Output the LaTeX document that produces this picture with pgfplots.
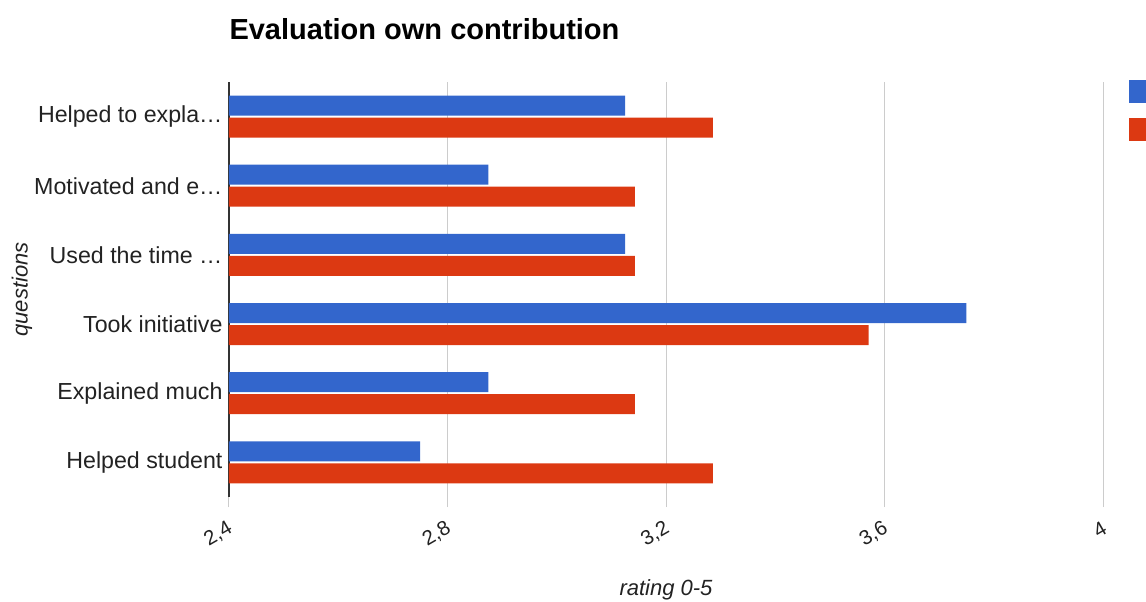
\documentclass[border=0pt]{standalone}
\usepackage{pgfplots}
\pgfplotsset{compat=1.18}
\usepackage{fontspec}
\setmainfont{Liberation Sans}

\definecolor{gblue}{HTML}{3366CC}
\definecolor{gred}{HTML}{DC3912}
\definecolor{ggrid}{HTML}{CCCCCC}
\definecolor{gtext}{HTML}{222222}
\definecolor{gaxis}{HTML}{333333}

\newcommand{\trunc}{\ldots}

\pgfplotstableread{
pos first second
0 2.75  3.286
1 2.875 3.143
2 3.75  3.571
3 3.125 3.143
4 2.875 3.143
5 3.125 3.286
}\ratings

\begin{document}
\begin{tikzpicture}[x=1pt,y=1pt]
\begin{axis}[
  name=ax,
  scale only axis,
  width=874pt, height=415pt,
  xbar, bar width=20pt,
  xmin=2.4, xmax=4,
  ymin=-0.5, ymax=5.5,
  axis line style={draw=none},
  xtick={2.4,2.8,3.2,3.6,4},
  xtick pos=lower,
  /pgf/number format/use comma,
  /pgf/number format/assume math mode=true,
  xmajorgrids,
  grid style={ggrid, line width=1pt},
  major tick length=10pt,
  tick align=outside,
  x tick style={ggrid, line width=1pt},
  extra x ticks={2.4},
  extra x tick labels={},
  extra x tick style={grid style={gaxis, line width=1.2pt}, tick style={gaxis, line width=1.2pt}},
  ytick={0,1,2,3,4,5},
  yticklabels={Helped student, Explained much, Took initiative, {Used the time \trunc}, {Motivated and e\trunc}, {Helped to expla\trunc}},
  y tick style={draw=none},
  yticklabel style={font=\fontsize{23.2}{25}\selectfont, text=gtext, xshift=7pt},
  xticklabel style={font=\fontsize{20.5}{24}\selectfont, text=gtext, rotate=30, anchor=east, yshift=-18pt, xshift=-5pt},
  xlabel={rating 0-5},
  ylabel={questions},
  xlabel style={font=\fontsize{22}{24}\selectfont\itshape, text=gtext, at={(axis description cs:0.5,0)}, anchor=center, yshift=-93pt},
  ylabel style={font=\fontsize{22}{24}\selectfont\itshape, text=gtext, at={(axis description cs:-0.237,0.5)}, anchor=center},
  title={Evaluation own contribution},
  title style={font=\fontsize{29}{31}\selectfont\bfseries, text=black, at={(axis description cs:0,1)}, anchor=west, yshift=47pt, xshift=-3pt},
  legend style={at={(axis description cs:1,1)}, anchor=north west, xshift=24pt, yshift=4pt, draw=none, fill=none, row sep=15pt, inner sep=2pt},
  legend image code/.code={\fill[#1] (0pt,-11.5pt) rectangle (23pt,11.5pt);},
]
\addplot[draw=none, fill=gblue, bar shift=11pt] table[x=first, y=pos] {\ratings};
\addlegendentry{}
\addplot[draw=none, fill=gred, bar shift=-11pt] table[x=second, y=pos] {\ratings};
\addlegendentry{}
\end{axis}
\pgfresetboundingbox
\path (ax.south west) ++(-229pt,-105pt) rectangle ++(1146pt,602pt);
\end{tikzpicture}
\end{document}
